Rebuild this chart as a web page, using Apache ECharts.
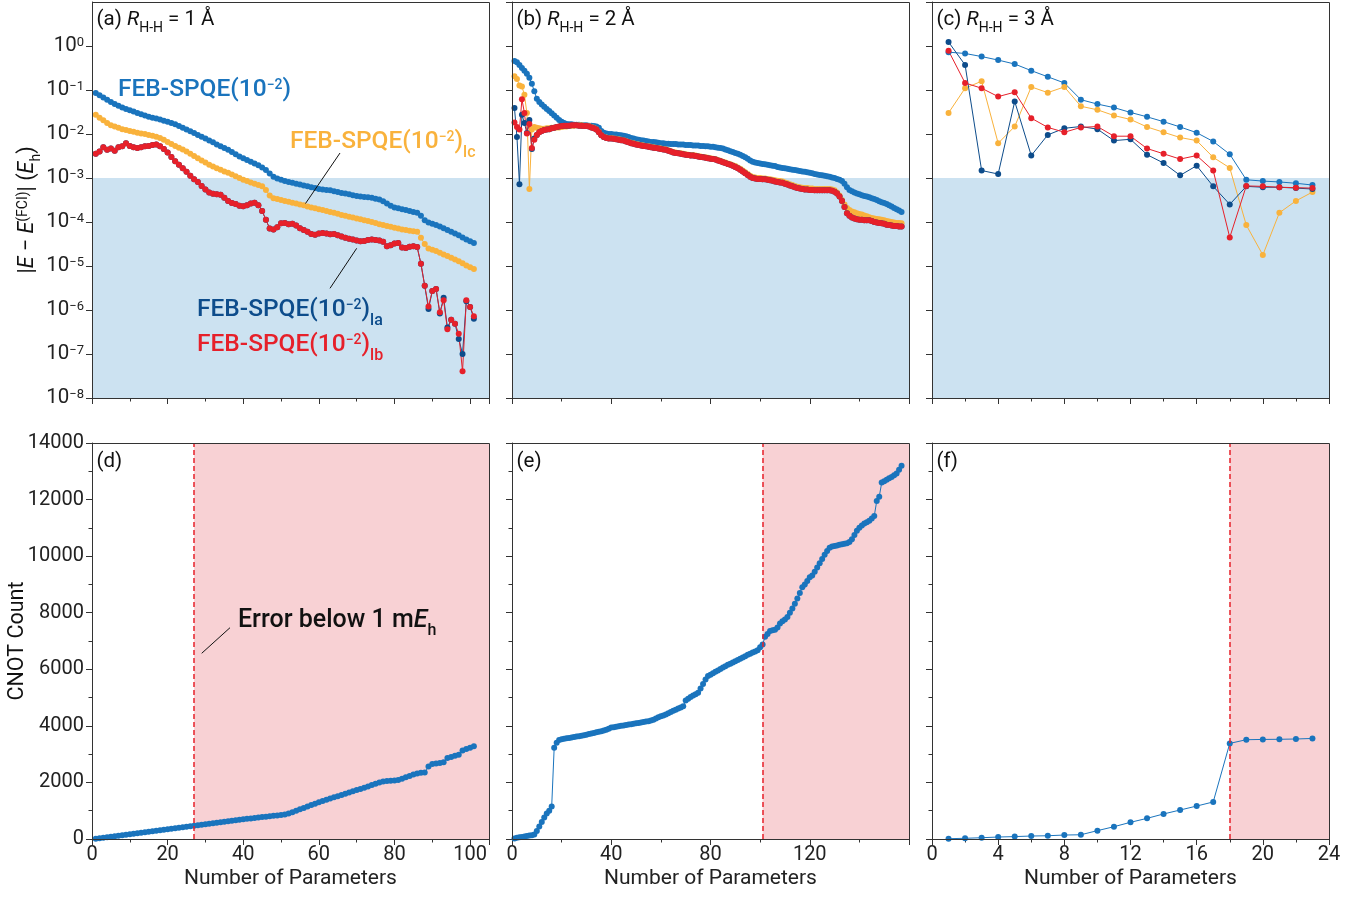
<!DOCTYPE html>
<html><head><meta charset="utf-8">
<script src="https://cdn.jsdelivr.net/npm/echarts@6/dist/echarts.min.js"></script>
<style>html,body{margin:0;padding:0;background:#fff}#c{width:1364px;height:899px}</style>
</head><body><div id="c"></div><script>
// ---------- DATA (error values stored as log10 of |E - E_FCI| in Eh) ----------
const aBlueLog = [-1.07,-1.12,-1.17,-1.22,-1.27,-1.32,-1.36,-1.40,-1.43,-1.46,
-1.49,-1.52,-1.55,-1.58,-1.61,-1.63,-1.65,-1.67,-1.70,-1.72,
-1.75,-1.78,-1.82,-1.86,-1.90,-1.94,-1.98,-2.02,-2.06,-2.10,
-2.15,-2.19,-2.24,-2.28,-2.32,-2.36,-2.41,-2.46,-2.51,-2.55,
-2.59,-2.63,-2.67,-2.71,-2.76,-2.82,-2.90,-2.97,-3.01,-3.04,
-3.07,-3.09,-3.11,-3.13,-3.15,-3.17,-3.19,-3.21,-3.23,-3.25,
-3.26,-3.27,-3.28,-3.30,-3.32,-3.34,-3.35,-3.37,-3.39,-3.41,
-3.42,-3.43,-3.44,-3.45,-3.47,-3.49,-3.53,-3.58,-3.63,-3.67,
-3.69,-3.71,-3.73,-3.75,-3.77,-3.79,-3.86,-3.96,-4.01,-4.04,
-4.07,-4.10,-4.14,-4.18,-4.22,-4.26,-4.30,-4.35,-4.40,-4.44,
-4.48];
const aOrangeLog = [-1.56,-1.63,-1.69,-1.75,-1.80,-1.83,-1.86,-1.89,-1.91,-1.93,
-1.95,-1.97,-1.99,-2.00,-2.02,-2.04,-2.06,-2.09,-2.13,-2.18,
-2.23,-2.27,-2.31,-2.35,-2.40,-2.45,-2.50,-2.55,-2.60,-2.65,
-2.70,-2.74,-2.78,-2.81,-2.85,-2.88,-2.92,-2.96,-3.00,-3.04,
-3.07,-3.10,-3.13,-3.16,-3.19,-3.27,-3.40,-3.46,-3.48,-3.50,
-3.52,-3.54,-3.56,-3.58,-3.60,-3.62,-3.65,-3.67,-3.69,-3.71,
-3.73,-3.75,-3.77,-3.79,-3.81,-3.84,-3.86,-3.88,-3.90,-3.92,
-3.94,-3.96,-3.98,-4.00,-4.02,-4.05,-4.07,-4.09,-4.11,-4.13,
-4.15,-4.17,-4.18,-4.20,-4.21,-4.22,-4.36,-4.50,-4.60,-4.63,
-4.66,-4.70,-4.74,-4.77,-4.81,-4.85,-4.89,-4.94,-4.99,-5.03,
-5.07];
const aDarkLog = [-2.45,-2.40,-2.30,-2.36,-2.33,-2.38,-2.30,-2.28,-2.21,-2.27,
-2.30,-2.32,-2.30,-2.28,-2.27,-2.25,-2.24,-2.28,-2.34,-2.42,
-2.52,-2.62,-2.70,-2.78,-2.86,-2.95,-3.03,-3.09,-3.18,-3.26,
-3.33,-3.36,-3.37,-3.38,-3.45,-3.52,-3.57,-3.59,-3.63,-3.64,
-3.62,-3.58,-3.56,-3.62,-3.75,-3.95,-4.15,-4.17,-4.12,-4.03,
-4.02,-4.05,-4.04,-4.08,-4.14,-4.18,-4.22,-4.27,-4.29,-4.26,
-4.25,-4.26,-4.28,-4.27,-4.30,-4.33,-4.36,-4.38,-4.40,-4.42,
-4.44,-4.43,-4.41,-4.40,-4.41,-4.42,-4.45,-4.55,-4.53,-4.49,
-4.48,-4.58,-4.59,-4.56,-4.55,-4.57,-4.95,-5.45,-5.98,-5.57,
-5.52,-6.08,-5.72,-6.40,-6.22,-6.31,-6.66,-7.00,-5.80,-5.93,
-6.20];
const aRedLog = [-2.45,-2.40,-2.30,-2.36,-2.33,-2.38,-2.30,-2.28,-2.21,-2.27,
-2.30,-2.32,-2.30,-2.28,-2.27,-2.25,-2.24,-2.28,-2.34,-2.42,
-2.52,-2.62,-2.70,-2.78,-2.86,-2.95,-3.03,-3.09,-3.18,-3.26,
-3.33,-3.36,-3.37,-3.38,-3.45,-3.52,-3.57,-3.59,-3.63,-3.64,
-3.62,-3.58,-3.56,-3.62,-3.75,-3.95,-4.15,-4.17,-4.12,-4.03,
-4.02,-4.05,-4.04,-4.08,-4.14,-4.18,-4.22,-4.27,-4.29,-4.26,
-4.25,-4.26,-4.28,-4.27,-4.30,-4.33,-4.36,-4.38,-4.40,-4.42,
-4.44,-4.43,-4.41,-4.40,-4.41,-4.42,-4.45,-4.55,-4.53,-4.49,
-4.48,-4.58,-4.59,-4.56,-4.55,-4.57,-4.95,-5.45,-5.92,-5.57,
-5.52,-6.05,-5.78,-6.44,-6.22,-6.31,-6.54,-7.39,-5.78,-5.93,
-6.14];

const bBlueLog = [-0.34,-0.37,-0.43,-0.50,-0.56,-0.63,-0.72,-0.86,-1.03,-1.20,
-1.27,-1.33,-1.38,-1.43,-1.48,-1.53,-1.58,-1.63,-1.68,-1.72,
-1.75,-1.77,-1.78,-1.78,-1.79,-1.79,-1.79,-1.80,-1.80,-1.80,
-1.81,-1.81,-1.82,-1.83,-1.86,-1.93,-1.97,-1.99,-2.00,-2.00,
-2.01,-2.01,-2.02,-2.03,-2.04,-2.05,-2.07,-2.09,-2.10,-2.12,
-2.13,-2.14,-2.15,-2.16,-2.17,-2.18,-2.18,-2.19,-2.20,-2.21,
-2.21,-2.22,-2.22,-2.23,-2.23,-2.23,-2.24,-2.24,-2.24,-2.25,
-2.25,-2.25,-2.26,-2.26,-2.26,-2.27,-2.27,-2.28,-2.28,-2.29,
-2.29,-2.30,-2.31,-2.32,-2.33,-2.35,-2.37,-2.39,-2.41,-2.43,
-2.45,-2.47,-2.50,-2.53,-2.56,-2.60,-2.63,-2.65,-2.66,-2.67,
-2.68,-2.69,-2.70,-2.71,-2.72,-2.73,-2.75,-2.76,-2.77,-2.78,
-2.79,-2.80,-2.81,-2.82,-2.83,-2.84,-2.85,-2.86,-2.87,-2.88,
-2.89,-2.91,-2.92,-2.93,-2.94,-2.95,-2.96,-2.97,-2.99,-3.00,
-3.02,-3.04,-3.07,-3.13,-3.21,-3.27,-3.30,-3.33,-3.35,-3.37,
-3.39,-3.41,-3.42,-3.44,-3.46,-3.48,-3.50,-3.53,-3.55,-3.57,
-3.59,-3.62,-3.65,-3.68,-3.71,-3.74,-3.77];
const bOrangeLog = [-0.69,-0.75,-0.90,-0.92,-1.11,-1.52,-3.25,-1.90,-1.84,-1.86,
-1.87,-1.88,-1.88,-1.87,-1.87,-1.86,-1.86,-1.85,-1.85,-1.84,
-1.83,-1.83,-1.82,-1.81,-1.81,-1.80,-1.80,-1.80,-1.81,-1.81,
-1.82,-1.84,-1.86,-1.89,-1.95,-2.02,-2.06,-2.08,-2.09,-2.09,
-2.10,-2.11,-2.12,-2.13,-2.14,-2.16,-2.18,-2.20,-2.21,-2.23,
-2.24,-2.25,-2.26,-2.27,-2.28,-2.29,-2.30,-2.31,-2.32,-2.33,
-2.34,-2.35,-2.37,-2.39,-2.41,-2.42,-2.43,-2.44,-2.45,-2.46,
-2.47,-2.48,-2.48,-2.49,-2.50,-2.51,-2.52,-2.53,-2.54,-2.55,
-2.56,-2.57,-2.59,-2.61,-2.63,-2.65,-2.67,-2.69,-2.71,-2.73,
-2.76,-2.79,-2.83,-2.87,-2.91,-2.95,-2.98,-2.99,-3.00,-3.00,
-3.01,-3.01,-3.02,-3.03,-3.04,-3.05,-3.06,-3.07,-3.08,-3.10,
-3.12,-3.14,-3.16,-3.18,-3.20,-3.21,-3.22,-3.23,-3.23,-3.24,
-3.24,-3.25,-3.25,-3.25,-3.25,-3.25,-3.25,-3.25,-3.26,-3.28,
-3.33,-3.40,-3.50,-3.60,-3.68,-3.73,-3.76,-3.78,-3.80,-3.82,
-3.83,-3.85,-3.87,-3.89,-3.91,-3.92,-3.93,-3.94,-3.95,-3.96,
-3.98,-3.99,-4.00,-4.01,-4.02,-4.02,-4.03];
const bDarkLog = [-1.41,-2.07,-3.14,-1.56,-1.75,-1.98,-1.68,-2.34,-2.10,-2.02,
-1.96,-1.93,-1.91,-1.90,-1.89,-1.87,-1.86,-1.84,-1.83,-1.82,
-1.81,-1.81,-1.81,-1.80,-1.80,-1.80,-1.81,-1.81,-1.82,-1.82,
-1.83,-1.85,-1.87,-1.90,-1.96,-2.03,-2.07,-2.09,-2.10,-2.10,
-2.11,-2.12,-2.13,-2.14,-2.15,-2.17,-2.19,-2.21,-2.22,-2.24,
-2.25,-2.26,-2.27,-2.28,-2.29,-2.30,-2.31,-2.32,-2.33,-2.34,
-2.35,-2.36,-2.38,-2.40,-2.42,-2.43,-2.44,-2.45,-2.46,-2.47,
-2.48,-2.49,-2.49,-2.50,-2.51,-2.52,-2.53,-2.54,-2.55,-2.56,
-2.57,-2.58,-2.60,-2.62,-2.64,-2.66,-2.68,-2.70,-2.72,-2.75,
-2.78,-2.81,-2.85,-2.89,-2.93,-2.97,-3.00,-3.01,-3.02,-3.02,
-3.03,-3.03,-3.04,-3.05,-3.06,-3.08,-3.09,-3.10,-3.11,-3.13,
-3.15,-3.17,-3.19,-3.21,-3.23,-3.24,-3.25,-3.26,-3.26,-3.27,
-3.27,-3.28,-3.28,-3.28,-3.28,-3.28,-3.28,-3.28,-3.29,-3.31,
-3.35,-3.42,-3.52,-3.66,-3.80,-3.86,-3.90,-3.92,-3.94,-3.95,
-3.95,-3.96,-3.96,-3.96,-3.98,-4.00,-4.01,-4.02,-4.03,-4.04,
-4.06,-4.07,-4.08,-4.09,-4.09,-4.10,-4.10];
const bRedLog = [-1.74,-1.84,-1.90,-1.21,-1.52,-1.99,-1.77,-2.32,-2.13,-2.02,
-1.96,-1.93,-1.91,-1.90,-1.89,-1.87,-1.86,-1.84,-1.83,-1.82,
-1.81,-1.81,-1.81,-1.80,-1.80,-1.80,-1.81,-1.81,-1.82,-1.82,
-1.83,-1.85,-1.87,-1.90,-1.96,-2.03,-2.07,-2.09,-2.10,-2.10,
-2.11,-2.12,-2.13,-2.14,-2.15,-2.17,-2.19,-2.21,-2.22,-2.24,
-2.25,-2.26,-2.27,-2.28,-2.29,-2.30,-2.31,-2.32,-2.33,-2.34,
-2.35,-2.36,-2.38,-2.40,-2.42,-2.43,-2.44,-2.45,-2.46,-2.47,
-2.48,-2.49,-2.49,-2.50,-2.51,-2.52,-2.53,-2.54,-2.55,-2.56,
-2.57,-2.58,-2.60,-2.62,-2.64,-2.66,-2.68,-2.70,-2.72,-2.75,
-2.78,-2.81,-2.85,-2.89,-2.93,-2.97,-3.00,-3.01,-3.02,-3.02,
-3.03,-3.03,-3.04,-3.05,-3.06,-3.08,-3.09,-3.10,-3.11,-3.13,
-3.15,-3.17,-3.19,-3.21,-3.23,-3.24,-3.25,-3.26,-3.26,-3.27,
-3.27,-3.28,-3.28,-3.28,-3.28,-3.28,-3.28,-3.28,-3.29,-3.31,
-3.35,-3.42,-3.52,-3.66,-3.80,-3.86,-3.90,-3.92,-3.94,-3.95,
-3.95,-3.96,-3.96,-3.96,-3.98,-4.00,-4.01,-4.02,-4.03,-4.04,
-4.06,-4.07,-4.08,-4.09,-4.09,-4.10,-4.10];

const cBlueLog = [-0.14,-0.17,-0.24,-0.32,-0.41,-0.56,-0.70,-0.84,-1.22,-1.32,-1.40,-1.51,-1.61,-1.72,-1.84,-1.97,-2.17,-2.46,-3.04,-3.07,-3.09,-3.12,-3.16];
const cOrangeLog = [-1.52,-0.96,-0.80,-2.21,-1.83,-0.93,-1.06,-0.93,-1.37,-1.45,-1.58,-1.67,-1.84,-1.96,-2.08,-2.15,-2.53,-2.77,-4.07,-4.75,-3.79,-3.52,-3.32];
const cDarkLog = [0.09,-0.43,-2.83,-2.91,-1.26,-2.49,-2.02,-1.87,-1.83,-1.89,-2.15,-2.12,-2.47,-2.66,-2.94,-2.72,-3.19,-3.60,-3.19,-3.21,-3.21,-3.23,-3.25];
const cRedLog = [-0.11,-0.84,-0.96,-1.15,-1.05,-1.64,-1.85,-1.96,-1.85,-1.83,-2.05,-2.05,-2.33,-2.45,-2.57,-2.49,-2.83,-4.35,-3.18,-3.19,-3.21,-3.22,-3.23];

// CNOT counts
const dCnot = [10,28,45,63,80,98,115,133,150,168,185,203,220,238,255,273,290,308,325,343,
360,378,395,413,430,448,465,483,501,519,537,555,573,591,609,627,645,663,681,699,
714,729,744,759,774,789,804,819,834,849,865,900,950,1000,1050,1100,1150,1200,1250,1295,
1340,1385,1430,1475,1515,1555,1600,1645,1690,1730,1770,1815,1860,1905,1950,1995,2035,2050,2060,2070,
2090,2130,2180,2230,2280,2320,2340,2350,2560,2650,2670,2690,2710,2860,2900,2940,2980,3130,3180,3230,
3280];
const eCnot = [20,40,60,75,90,105,120,135,160,280,440,600,760,900,1000,1150,3230,3400,3500,3530,
3545,3560,3575,3590,3605,3620,3635,3650,3670,3690,3710,3730,3750,3770,3790,3810,3835,3860,3900,3940,
3955,3970,3985,4000,4015,4030,4045,4060,4075,4090,4105,4120,4135,4150,4165,4185,4220,4260,4300,4340,
4370,4400,4445,4490,4530,4570,4610,4650,4690,4900,4960,5020,5070,5120,5170,5320,5480,5640,5760,5810,
5860,5910,5960,6010,6060,6110,6160,6200,6240,6285,6330,6375,6420,6465,6510,6550,6590,6630,6670,6780,
6880,7150,7250,7350,7380,7400,7480,7620,7700,7760,7850,8000,8150,8320,8500,8700,8900,9000,9120,9250,
9320,9450,9600,9750,9900,10050,10180,10300,10340,10360,10380,10400,10420,10440,10460,10500,10600,10750,10900,11000,
11080,11150,11200,11250,11330,11420,11950,12100,12600,12650,12700,12750,12800,12860,12920,13050,13200];
const fCnot = [10,25,45,70,85,105,115,140,150,295,435,590,730,885,1025,1165,1310,3380,3510,3520,3525,3535,3555];

const thresholds = [27, 101, 18];           // first parameter count with error below 1 mEh
const chemAccuracy = 1e-3;
const xMax = [105, 160, 24];
const xInterval = [20, 40, 4];
const yLogTicks = ['10^-8','10^-7','10^-6','10^-5','10^-4','10^-3','10^-2','10^-1','10^0'];

// ---------- STYLE ----------
const FONT = 'Roboto';
const COL = {blue:'#1A74BD', orange:'#F9B23C', dark:'#0D4C8B', red:'#E6202A'};
const GL = [92, 512, 932], GT = [2, 443], GW = 397, GH = 396;

const toPts = arr => arr.map((v, i) => [i + 1, v]);
const toLogPts = arr => arr.map((v, i) => [i + 1, Math.pow(10, v)]);

const grids = [], xAxes = [], yAxes = [], series = [];
for (let r = 0; r < 2; r++) for (let c = 0; c < 3; c++) {
  grids.push({left: GL[c], top: GT[r], width: GW, height: GH, containLabel: false, outerBoundsMode: 'none'});
  const gi = r * 3 + c;
  xAxes.push({
    type: 'value', gridIndex: gi, min: 0, max: xMax[c], interval: xInterval[c],
    axisLine: {show: true, onZero: false, lineStyle: {color: '#333', width: 1}},
    axisTick: {show: true, inside: false, length: 6, lineStyle: {color: '#333'}},
    minorTick: {show: true, splitNumber: 2, length: 3.5, lineStyle: {color: '#333'}},
    splitLine: {show: false}, minorSplitLine: {show: false},
    axisLabel: {show: r === 1, fontFamily: FONT, fontSize: 20, color: '#222', margin: 6,
      showMaxLabel: c === 2, formatter: v => String(v)},
    name: r === 1 ? 'Number of Parameters' : '', nameLocation: 'middle', nameGap: 29,
    nameTextStyle: {fontFamily: FONT, fontSize: 21, color: '#222'}
  });
  if (r === 0) {
    yAxes.push({
      type: 'log', logBase: 10, gridIndex: gi, min: 1e-8, max: 10, splitNumber: 9,
      axisLine: {show: true, lineStyle: {color: '#333', width: 1}},
      axisTick: {show: true, inside: false, length: 6, lineStyle: {color: '#333'}},
      minorTick: {show: false}, splitLine: {show: false},
      axisLabel: {
        show: c === 0, margin: 8, showMaxLabel: false,
        formatter: v => {
          const e = Math.round(Math.log10(v));
          const lab = yLogTicks[e + 8] || ('10^' + e);
          const p = lab.split('^');
          return '{b|' + p[0] + '}{s|' + p[1].replace('-', '−') + '}';
        },
        rich: {
          b: {fontFamily: FONT, fontSize: 20.5, color: '#222', lineHeight: 28},
          s: {fontFamily: FONT, fontSize: 13, color: '#222', lineHeight: 28, height: 21, verticalAlign: 'top'}
        }
      }
    });
  } else {
    yAxes.push({
      type: 'value', gridIndex: gi, min: 0, max: 14000, interval: 2000,
      axisLine: {show: true, lineStyle: {color: '#333', width: 1}},
      axisTick: {show: true, inside: false, length: 6, lineStyle: {color: '#333'}},
      minorTick: {show: true, splitNumber: 2, length: 3.5, lineStyle: {color: '#333'}},
      splitLine: {show: false}, minorSplitLine: {show: false},
      axisLabel: {show: c === 0, fontFamily: FONT, fontSize: 20, color: '#222', margin: 8,
        formatter: v => String(v)}
    });
  }
}

function line(gi, data, color, extra) {
  return Object.assign({
    type: 'line', xAxisIndex: gi, yAxisIndex: gi, data: data,
    symbol: 'circle', symbolSize: 6, showSymbol: true,
    lineStyle: {color: color, width: 1}, itemStyle: {color: color},
    silent: true, animation: false, emphasis: {disabled: true}, z: 3
  }, extra || {});
}
const topMarks = {
  markArea: {silent: true, itemStyle: {color: '#CCE2F1'}, data: [[{yAxis: 1e-8}, {yAxis: chemAccuracy}]]},
  markLine: {silent: true, symbol: ['none', 'none'], label: {show: false}, animation: false,
    lineStyle: {type: [6, 3], color: '#111', width: 1.5}, data: [{yAxis: chemAccuracy}]}
};
const topSets = [
  [aBlueLog, aOrangeLog, aDarkLog, aRedLog],
  [bBlueLog, bOrangeLog, bDarkLog, bRedLog],
  [cBlueLog, cOrangeLog, cDarkLog, cRedLog]
];
topSets.forEach((set, c) => {
  series.push(line(c, toLogPts(set[0]), COL.blue, topMarks));
  series.push(line(c, toLogPts(set[1]), COL.orange));
  series.push(line(c, toLogPts(set[2]), COL.dark));
  series.push(line(c, toLogPts(set[3]), COL.red));
});
[dCnot, eCnot, fCnot].forEach((arr, c) => {
  series.push(line(3 + c, toPts(arr), COL.blue, {
    markArea: {silent: true, itemStyle: {color: '#F8D1D4'}, data: [[{xAxis: thresholds[c]}, {xAxis: xMax[c]}]]},
    markLine: {silent: true, symbol: ['none', 'none'], label: {show: false}, animation: false,
      lineStyle: {type: [5, 3], color: '#E6202A', width: 1.5}, data: [{xAxis: thresholds[c]}]}
  }));
});

// ---------- TEXT / ANNOTATIONS ----------
const T = (size, o) => Object.assign({fontFamily: FONT, fontSize: size}, o || {});
function txt(x, y, text, rich, extra) {
  return Object.assign({type: 'text', x: x, y: y, z: 120, silent: true,
    style: {text: text, rich: rich, fontFamily: FONT, fontSize: 20, fill: '#111',
      align: 'left', verticalAlign: 'middle', textAlign: 'left', textVerticalAlign: 'middle'}}, extra || {});
}
function febRich(color) {
  return {
    m: T(24.5, {fontWeight: 500, fill: color, lineHeight: 38}),
    s: T(14, {fontWeight: 500, fill: color, lineHeight: 38, height: 29, verticalAlign: 'top'}),
    u: T(16, {fontWeight: 500, fill: color, lineHeight: 16, verticalAlign: 'bottom'})
  };
}
const febMain = '{m|FEB-SPQE(10}{s|−2}{m|)}';
const panelRich = {
  m: T(20.5, {fill: '#111', lineHeight: 30}),
  i: T(20.5, {fill: '#111', lineHeight: 30, fontStyle: 'italic'}),
  u: T(14, {fill: '#111', lineHeight: 13, verticalAlign: 'bottom'})
};
const nameRich = {
  m: T(21.5, {fill: '#111', lineHeight: 30}),
  i: T(21.5, {fill: '#111', lineHeight: 30, fontStyle: 'italic'}),
  p: T(14, {fill: '#111', lineHeight: 30, height: 20, verticalAlign: 'top'}),
  u: T(14, {fill: '#111', lineHeight: 13, verticalAlign: 'bottom'})
};
const errRich = {
  m: T(25, {fill: '#111', lineHeight: 36, fontWeight: 500}),
  i: T(25, {fill: '#111', lineHeight: 36, fontWeight: 500, fontStyle: 'italic'}),
  u: T(16, {fill: '#111', lineHeight: 16, fontWeight: 500, verticalAlign: 'bottom'})
};
const seg = (x1, y1, x2, y2) => ({type: 'line', z: 120, silent: true,
  shape: {x1: x1, y1: y1, x2: x2, y2: y2}, style: {stroke: '#111', lineWidth: 1}});

const graphics = [];
for (let r = 0; r < 2; r++) for (let c = 0; c < 3; c++) {
  graphics.push({type: 'rect', z: 110, silent: true,
    shape: {x: GL[c] + 0.5, y: GT[r] + 0.5, width: GW, height: GH},
    style: {fill: null, stroke: '#333', lineWidth: 1}});
}
['(a) ', '(b) ', '(c) '].forEach((p, c) => {
  graphics.push(txt(GL[c] + 4.5, 20, '{m|' + p + '}{i|R}{u|H-H}{m| = ' + (c + 1) + ' Å}', panelRich));
});
['(d)', '(e)', '(f)'].forEach((p, c) => {
  graphics.push(txt(GL[c] + 4.5, 462, '{m|' + p + '}', panelRich));
});
graphics.push(txt(118, 90, febMain, febRich(COL.blue)));
graphics.push(txt(290, 142, febMain + '{u|lc}', febRich(COL.orange)));
graphics.push(txt(197, 310, febMain + '{u|la}', febRich(COL.dark)));
graphics.push(txt(197, 345, febMain + '{u|lb}', febRich(COL.red)));
graphics.push(seg(340, 153, 305.5, 203.5));
graphics.push(seg(356.7, 248.3, 330, 288.3));
graphics.push(txt(238, 621, '{m|Error below 1 m}{i|E}{u|h}', errRich));
graphics.push(seg(230, 627.7, 201.7, 653.3));
const yNameTop = txt(28, 210, '{m||}{i|E}{m| − }{i|E}{p|(FCI)}{m|| (}{i|E}{u|h}{m|)}', nameRich, {rotation: Math.PI / 2});
yNameTop.style.align = 'center'; yNameTop.style.textAlign = 'center';
graphics.push(yNameTop);
const yNameBot = txt(18, 641, '{m|CNOT Count}', nameRich, {rotation: Math.PI / 2});
yNameBot.style.align = 'center'; yNameBot.style.textAlign = 'center';
graphics.push(yNameBot);

const chart = echarts.init(document.getElementById('c'), null, {renderer: 'canvas'});
chart.setOption({
  animation: false, backgroundColor: '#fff',
  grid: grids, xAxis: xAxes, yAxis: yAxes, series: series,
  graphic: {elements: graphics}
});
</script></body></html>
